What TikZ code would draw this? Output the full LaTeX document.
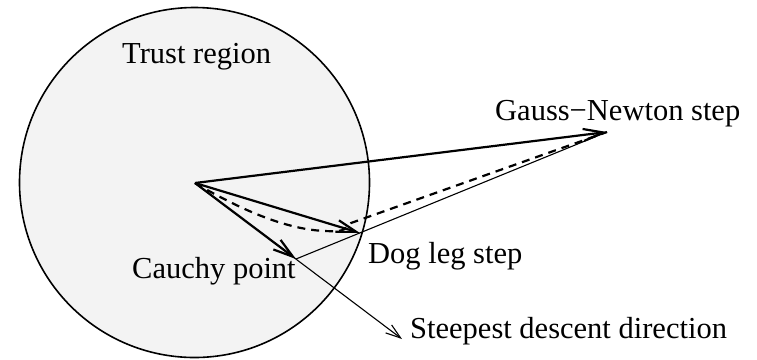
\documentclass[tikz,border=0pt]{standalone}
\usepackage{fontspec}
\setmainfont{Liberation Serif}
\usetikzlibrary{arrows.meta}
\definecolor{regionfill}{HTML}{F3F3F3}
\tikzset{
  lbl/.style={inner sep=0pt, anchor=base west, font=\fontsize{30.5bp}{36bp}\selectfont},
  barb/.style={-{Straight Barb[length=20bp,width=12bp]}},
  smallbarb/.style={-{Straight Barb[length=15bp,width=10bp]}},
  stepline/.style={line width=2.2bp, barb},
  thinline/.style={line width=1.1bp},
}
\begin{document}
\begin{tikzpicture}[x=1bp,y=-1bp]
\useasboundingbox (0,0) rectangle (757,359);
% trust region
\draw[line width=1.6bp, fill=regionfill] (194.5,182.5) circle[radius=175];
% points
\coordinate (O) at (195,183);
\coordinate (GN) at (607,132);
\coordinate (DL) at (360,233);
\coordinate (CP) at (296,259);
\coordinate (SD) at (402,339);
\coordinate (bend) at (351,223);
% labels
\node[lbl] (trust) at (122,63) {Trust region};
\node[lbl] (gnlbl) at (495,120) {Gauss−Newton step};
\node[lbl] (cplbl) at (132,278) {Cauchy point};
\node[lbl] (dllbl) at (368,263) {Dog leg step};
\node[lbl] (sdlbl) at (410,338) {Steepest descent direction};
% thin lines
\draw[thinline] (CP) -- (GN);
\draw[thinline, smallbarb] (O) -- (SD);
% dashed trajectory
\draw[line width=2.2bp, dash pattern=on 8bp off 6bp]
  (O) .. controls (255,218) and (300,233) .. (338,231)
  .. controls (344,230) .. (bend) -- (GN);
% steps
\draw[stepline] (O) -- (GN);
\draw[stepline] (O) -- (DL);
\draw[stepline] (O) -- (CP);
\end{tikzpicture}
\end{document}
